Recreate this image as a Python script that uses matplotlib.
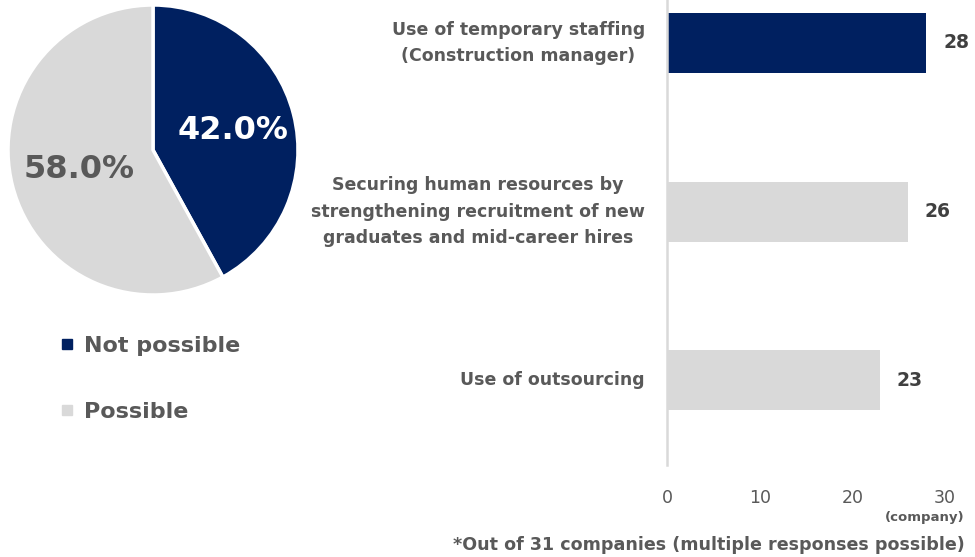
import matplotlib
matplotlib.use("Agg")
import matplotlib.pyplot as plt
from matplotlib.lines import Line2D

plt.rcParams['font.family'] = ['DejaVu Sans']

# Pie data
pie_labels = ["Not possible", "Possible"]
pie_values = [42.0, 58.0]

# Bar data
bar_categories = [
    "Use of temporary staffing\n(Construction manager)",
    "Securing human resources by\nstrengthening recruitment of new\ngraduates and mid-career hires",
    "Use of outsourcing",
]
bar_values = [28, 26, 23]
x_ticks = [0, 10, 20, 30]

NAVY = "#002060"
LIGHT = "#d9d9d9"
TEXT = "#595959"
VALUE = "#404040"

W, H = 975, 557
fig = plt.figure(figsize=(W / 100, H / 100), dpi=100)


def frac(x0, y0, x1, y1):
    """pixel box (top-left origin) -> figure fraction rect"""
    return [x0 / W, 1 - y1 / H, (x1 - x0) / W, (y1 - y0) / H]


# ---- Pie ----
ax_pie = fig.add_axes(frac(8, 5, 298, 295))
wedges, _, autotexts = ax_pie.pie(
    pie_values,
    colors=[NAVY, LIGHT],
    startangle=90,
    counterclock=False,
    radius=1.0,
    autopct=lambda p: f"{p:.1f}%",
    pctdistance=0.55,
    wedgeprops=dict(edgecolor="white", linewidth=2.5),
)
autotexts[0].set_color("white")
autotexts[1].set_color(TEXT)
for t in autotexts:
    t.set_fontsize(23)
    t.set_fontweight("bold")
# nudge the percentage labels slightly to the right
for t in autotexts:
    x, y = t.get_position()
    t.set_position((x + 0.02, y))
ax_pie.set_xlim(-1.0, 1.0)
ax_pie.set_ylim(-1.0, 1.0)
ax_pie.set_aspect("equal")

handles = [
    Line2D([], [], marker="s", linestyle="none", markersize=6.5,
           markerfacecolor=c, markeredgecolor=c)
    for c in (NAVY, LIGHT)
]
leg = fig.legend(
    handles, pie_labels,
    loc="upper left", bbox_to_anchor=(40 / W, 1 - 316 / H),
    frameon=False, handlelength=0.6, handletextpad=0.5,
    labelspacing=2.05, prop=dict(size=16, weight="bold"),
)
for t in leg.get_texts():
    t.set_color(TEXT)

# ---- Bars ----
ax_bar = fig.add_axes(frac(667, 0, 945, 465))
ypos = list(range(len(bar_categories)))
bars = ax_bar.barh(ypos, bar_values, height=0.356,
                   color=[NAVY, LIGHT, LIGHT], zorder=2)
ax_bar.set_xlim(0, 30)
ax_bar.set_ylim(2.504, -0.255)
ax_bar.set_yticks(ypos)
ax_bar.set_yticklabels(bar_categories, fontsize=12.5, fontweight="bold",
                       color=TEXT, linespacing=1.6, multialignment="center",
                       va="center")
ax_bar.set_xticks(x_ticks)
ax_bar.set_xticklabels([str(v) for v in x_ticks], fontsize=12.5, color=TEXT)
ax_bar.tick_params(axis="y", length=0, pad=16)
ax_bar.tick_params(axis="x", length=0, pad=17)
for s in ("top", "right", "bottom"):
    ax_bar.spines[s].set_visible(False)
ax_bar.spines["left"].set_color(LIGHT)
ax_bar.spines["left"].set_linewidth(1.8)

for b, v in zip(bars, bar_values):
    ax_bar.annotate(str(v), (v, b.get_y() + b.get_height() / 2),
                    xytext=(12, 0), textcoords="offset points",
                    ha="left", va="center", fontsize=13.5,
                    fontweight="bold", color=VALUE)

fig.text(965 / W, 1 - 518 / H, "(company)", ha="right", va="center",
         fontsize=9.5, fontweight="bold", color=TEXT)
fig.text(965 / W, 1 - 545 / H,
         "*Out of 31 companies (multiple responses possible)",
         ha="right", va="center", fontsize=12.65, fontweight="bold", color=TEXT)

fig.savefig("out.png", dpi=100)
